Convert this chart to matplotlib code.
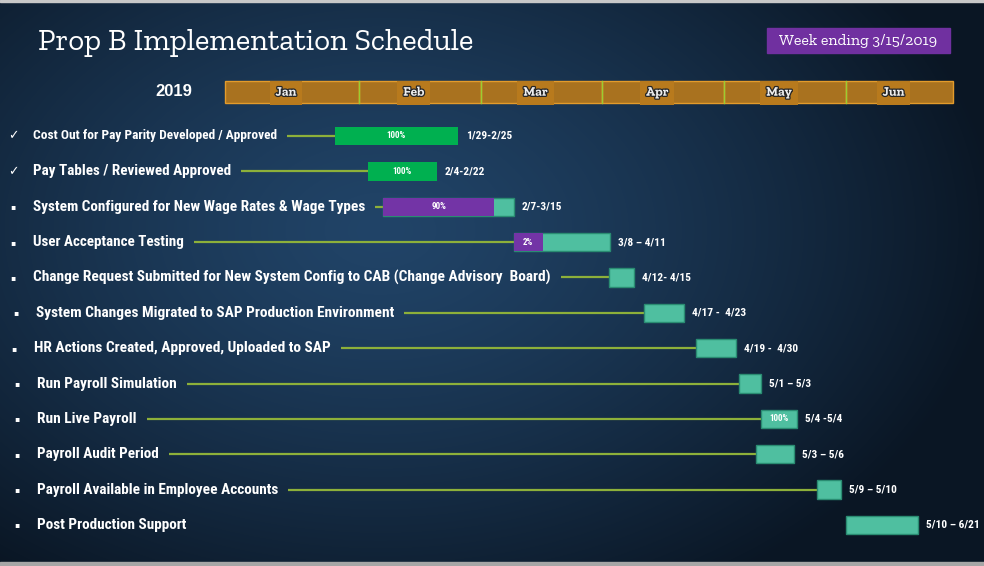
import numpy as np
import matplotlib
matplotlib.use("Agg")
import matplotlib.pyplot as plt
from matplotlib import font_manager as fm
from matplotlib.patches import Rectangle
from matplotlib.transforms import blended_transform_factory, offset_copy
import matplotlib.patheffects as pe

# ---------------- data ----------------
title = "Prop B Implementation Schedule"
week_label = "Week ending 3/15/2019"
year_label = "2019"
months = ["Jan", "Feb", "Mar", "Apr", "May", "Jun"]

tasks = [
    "Cost Out for Pay Parity Developed / Approved",
    "Pay Tables / Reviewed Approved",
    "System Configured for New Wage Rates & Wage Types",
    "User Acceptance Testing",
    "Change Request Submitted for New System Config to CAB (Change Advisory  Board)",
    "System Changes Migrated to SAP Production Environment",
    "HR Actions Created, Approved, Uploaded to SAP",
    "Run Payroll Simulation",
    "Run Live Payroll",
    "Payroll Audit Period",
    "Payroll Available in Employee Accounts",
    "Post Production Support",
]
status = ["done", "done", "active", "active", "planned", "planned",
          "planned", "planned", "planned", "planned", "planned", "planned"]
has_leader = [True] * 11 + [False]

# bar extents in months since 1 Jan 2019 (as drawn in the picture)
bar_start = [0.80, 1.07, 1.20, 2.27, 3.05, 3.34, 3.77, 4.12, 4.30, 4.26, 4.76, 5.00]
bar_end = [1.81, 1.64, 2.27, 3.06, 3.26, 3.67, 4.10, 4.30, 4.60, 4.57, 4.96, 5.59]
progress_end = [1.81, 1.64, 2.11, 2.51, None, None, None, None, None, None, None, None]
pct_labels = ["100%", "100%", "90%", "2%", "", "", "", "", "100%", "", "", ""]
date_labels = ["1/29-2/25", "2/4-2/22", "2/7-3/15", "3/8 \u2013 4/11", "4/12- 4/15",
               "4/17 -  4/23", "4/19 -  4/30", "5/1 \u2013 5/3", "5/4 -5/4",
               "5/3 \u2013 5/6", "5/9 \u2013 5/10", "5/10 \u2013 6/21"]
timeline_start, timeline_end = -0.1, 5.88

# ---------------- style ----------------
bold_names = {f.name for f in fm.fontManager.ttflist
              if (f.weight if isinstance(f.weight, int) else 400) >= 700
              or f.weight in ("bold", "heavy", "black")}
names = {f.name for f in fm.fontManager.ttflist}


def pick(cands, default, need_bold=True):
    pool = bold_names if need_bold else names
    for c in cands:
        if c in pool:
            return c
    return default


NARROW = pick(["Liberation Sans Narrow", "Arial Narrow", "Archivo Narrow", "Roboto Condensed",
               "PT Sans Narrow", "Arimo Narrow", "Fira Sans Condensed",
               "IBM Plex Sans Condensed", "Barlow Semi Condensed", "Encode Sans Condensed",
               "Sofia Sans Condensed", "Open Sans Condensed"], "Liberation Sans")
SLAB = pick(["Rockwell", "Roboto Slab", "Zilla Slab", "Arvo", "Rokkitt", "Bitter"],
            "DejaVu Serif")
TEAL, TEAL_EDGE = "#4fbfa0", "#2a8c72"
GREEN, PURPLE = "#00b050", "#7334a6"
LINE = "#8db03a"
# layout of the left-hand captions (pixels): left edge and drawn width
label_left_px = [33, 33, 33, 33, 33, 36, 34, 37, 37, 37, 37, 37]
label_width_px = [245, 199, 334, 151, 520, 360, 299, 140, 100, 122, 243, 151]

W, H = 984, 566
fig = plt.figure(figsize=(W / 100, H / 100), dpi=100)

# background
bg = fig.add_axes([0, 0, 1, 1], zorder=0)
yy, xx = np.mgrid[0:H, 0:W]
r = np.sqrt(((xx - 380) / 620.0) ** 2 + ((yy - 230) / 420.0) ** 2)
t = np.clip(r, 0, 1) ** 1.3
inner = np.array([33, 68, 104]) / 255
outer = np.array([10, 22, 36]) / 255
img = inner[None, None, :] * (1 - t[..., None]) + outer[None, None, :] * t[..., None]
bg.imshow(img, extent=[0, W, H, 0], aspect="auto")
bg.set_xlim(0, W)
bg.set_ylim(H, 0)
bg.axis("off")
bg.add_patch(Rectangle((0, 0), W, 2, color="#c8c8c8"))
bg.add_patch(Rectangle((0, 562), W, 4, color="#a6a6a6"))

# main axis: x = months since Jan 1, y = task rows
ax = fig.add_axes([0, 0, 1, 1], zorder=1)
ax.patch.set_alpha(0)
ax.axis("off")
px0, ppm = 237.25, 121.75      # pixel of Jan 1, pixels per month
row0, ppr = 136.0, 35.36       # pixel of first row, pixels per row
ax.set_xlim((0 - px0) / ppm, (W - px0) / ppm)
ax.set_ylim((H - row0) / ppr, (0 - row0) / ppr)

renderer = fig.canvas.get_renderer()


def fit(txts, targets):
    fig.canvas.draw()
    for txt, target_px in zip(txts, targets):
        w = txt.get_window_extent(renderer).width
        txt.set_fontsize(txt.get_fontsize() * target_px / w)


# month band
band_y, band_h = -1.244, 0.622
for i, m in enumerate(months):
    lo = timeline_start if i == 0 else i
    hi = timeline_end if i == len(months) - 1 else i + 1
    ax.barh(band_y, hi - lo, left=lo, height=band_h, color="#a9721f",
            edgecolor="#e39b2b", linewidth=1.0, zorder=2)
for i in range(1, len(months)):
    ax.plot([i, i], [band_y - band_h / 2, band_y + band_h / 2], color="#9acd32",
            lw=1.0, zorder=3)
for i, m in enumerate(months):
    lo = timeline_start if i == 0 else i
    hi = timeline_end if i == len(months) - 1 else i + 1
    ax.text((lo + hi) / 2 - 0.05, band_y + 0.02, m, ha="center", va="center",
            fontsize=9.5, family=SLAB, weight="bold", color="#eeeeee", zorder=4,
            bbox=dict(boxstyle="square,pad=0.45", fc="#b87a1d", ec="none"),
            path_effects=[pe.withStroke(linewidth=1.8, foreground="#262626")])

# task labels & bullets
lab_tr = blended_transform_factory(ax.transAxes, ax.transData)
labels = []
for i, name in enumerate(tasks):
    mark = "\u2713" if status[i] == "done" else "\u25aa"
    ax.text((label_left_px[i] - 20) / W, i, mark, transform=lab_tr, ha="center",
            va="center", fontsize=9 if status[i] == "done" else 5.5, color="white",
            family="DejaVu Sans", weight="bold")
    labels.append(ax.text(label_left_px[i] / W, i, name, transform=lab_tr, ha="left",
                          va="center", fontsize=9.8, family=NARROW, weight="bold",
                          color="white"))
fit(labels, label_width_px)

fig.canvas.draw()
inv = ax.transData.inverted()

bar_h = 0.52
for i in range(len(tasks)):
    if has_leader[i]:
        bb = labels[i].get_window_extent(renderer)
        x_from = inv.transform((bb.x1 + 10, 0))[0]
        if x_from < bar_start[i]:
            ax.plot([x_from, bar_start[i]], [i, i], color=LINE, lw=1.6, zorder=2,
                    solid_capstyle="butt")
    width = bar_end[i] - bar_start[i]
    if status[i] == "done":
        ax.barh(i, width, left=bar_start[i], height=bar_h, color=GREEN,
                edgecolor="none", zorder=3)
        cx = bar_start[i] + width / 2
    else:
        ax.barh(i, width, left=bar_start[i], height=bar_h, color=TEAL,
                edgecolor=TEAL_EDGE, linewidth=1.0, zorder=3)
        cx = bar_start[i] + width / 2
        if progress_end[i] is not None:
            pw = progress_end[i] - bar_start[i]
            ax.barh(i, pw, left=bar_start[i], height=bar_h, color=PURPLE,
                    edgecolor="none", zorder=4)
            cx = bar_start[i] + pw / 2
    if pct_labels[i]:
        ax.text(cx, i, pct_labels[i], ha="center", va="center", fontsize=6.5,
                family=NARROW, weight="bold", color="white", zorder=5)
    ax.text(bar_end[i], i, date_labels[i], ha="left", va="center", fontsize=8.2,
            family=NARROW, weight="bold", color="white", zorder=5,
            transform=offset_copy(ax.transData, fig=fig, x=8, y=0, units="dots"))

# title, week box, year
ttl = fig.text(38 / W, 1 - 50 / H, title, family=SLAB, fontsize=20, color="white",
               ha="left", va="baseline", zorder=5)
fig.patches.append(Rectangle((767 / W, 1 - 53 / H), 183 / W, 25 / H,
                             transform=fig.transFigure, color="#7030a0", zorder=3))
wk = fig.text(858.5 / W, 1 - 41 / H, week_label, family=SLAB, fontsize=10.5,
              color="white", ha="center", va="center", zorder=5)
fit([ttl, wk], [435, 158])
fig.text(174 / W, 1 - 91 / H, year_label, family="Liberation Sans", weight="bold",
         fontsize=12, color="white", ha="center", va="center", zorder=5)

fig.savefig("out.png", dpi=100)
